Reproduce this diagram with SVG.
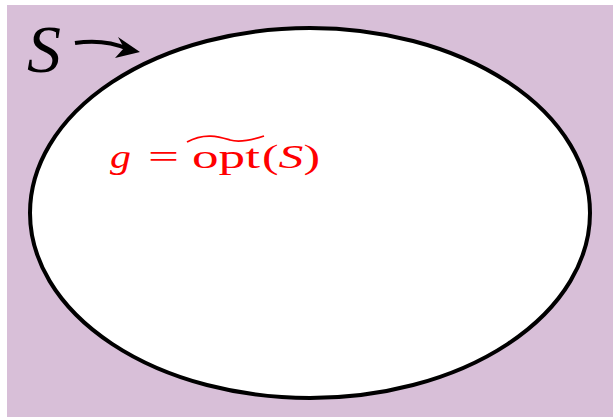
<svg xmlns="http://www.w3.org/2000/svg" width="613" height="417" viewBox="0 0 613 417">
<style>
.m{font-family:"Liberation Serif","DejaVu Serif",serif;font-size:34px;}
.it{font-style:italic;}
</style>
<rect x="7" y="5" width="606" height="412" fill="#D8BFD8"/>
<g id="set">
<ellipse cx="310" cy="213" rx="280" ry="185" fill="#fff" stroke="#000" stroke-width="4"/>
</g>
<g id="label">
<text class="m it" x="27" y="72" style="font-size:68px">S</text>
</g>
<g id="connectors">
<path d="M75,43 C95,40 112,42 128,49" fill="none" stroke="#000" stroke-width="4"/>
<path d="M140,52 L118,37 L124,48 L115,58 Z" fill="#000"/>
</g>
<g id="formula" fill="#f00">
<text class="m it" x="110" y="168" textLength="21" lengthAdjust="spacingAndGlyphs">g</text>
<text class="m" x="148" y="168" textLength="31" lengthAdjust="spacingAndGlyphs">=</text>
<text class="m" x="192" y="168" textLength="68" lengthAdjust="spacingAndGlyphs">opt</text>
<text class="m" x="262" y="168" textLength="58" lengthAdjust="spacingAndGlyphs">(<tspan class="it">S</tspan>)</text>
<path d="M187,142 C205,132 220,137 230,140 C240,143 252,140 264,136" fill="none" stroke="#f00" stroke-width="1.8"/>
</g>
</svg>
